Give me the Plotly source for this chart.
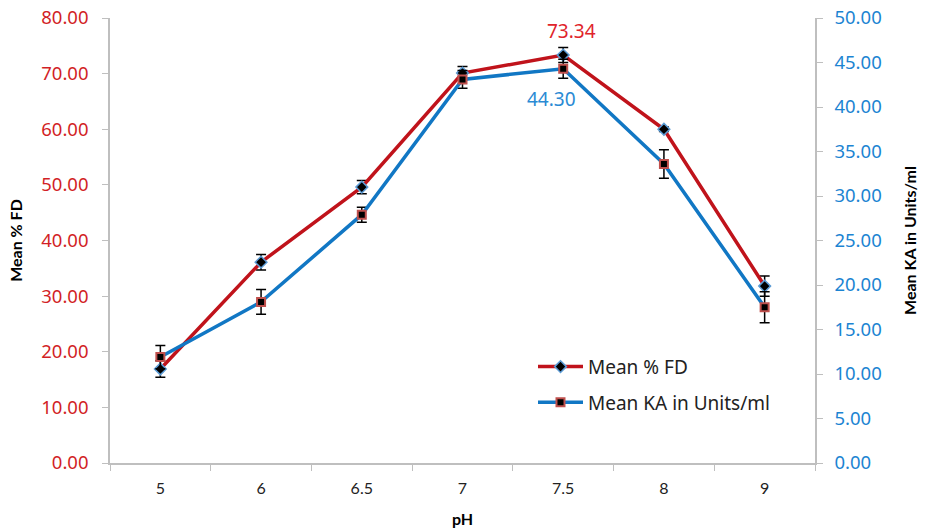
import plotly.graph_objects as go

ph = ["5", "6", "6.5", "7", "7.5", "8", "9"]
fd = [16.9, 36.1, 49.6, 70.1, 73.34, 60.0, 31.8]
fd_err = [1.5, 1.4, 1.2, 1.2, 1.35, 0.4, 1.8]
ka = [11.9, 18.1, 27.9, 43.1, 44.30, 33.6, 17.5]
ka_err = [1.3, 1.4, 0.85, 1.0, 1.07, 1.6, 1.75]

RED = "#C0131B"
BLUE = "#1177C4"
AX = "#BFBFBF"

fig = go.Figure()
fig.add_trace(go.Scatter(
    x=ph, y=fd, name="Mean % FD", mode="lines+markers", legendgroup="a",
    line=dict(color=RED, width=3.5),
    marker=dict(symbol="diamond", size=9, color="black", line=dict(color="#5B9BD5", width=1.5)),
    error_y=dict(type="data", array=fd_err, color="black", thickness=1.5, width=5),
    yaxis="y"))
fig.add_trace(go.Scatter(
    x=ph, y=ka, name="Mean KA in Units/ml", mode="lines+markers", legendgroup="b",
    line=dict(color=BLUE, width=3.5),
    marker=dict(symbol="square", size=8, color="black", line=dict(color="#C0504D", width=2)),
    error_y=dict(type="data", array=ka_err, color="black", thickness=1.5, width=5),
    yaxis="y2"))

idx = ph.index("7.5")
fig.add_annotation(x=idx, y=fd[idx], yref="y", text=f"{fd[idx]:.2f}", showarrow=False,
                   xshift=8, yshift=24, font=dict(color="#E0242B", size=19, family="Noto Sans"))
fig.add_annotation(x=idx, y=ka[idx], yref="y2", text=f"{ka[idx]:.2f}", showarrow=False,
                   xshift=-12, yshift=-30, font=dict(color="#2A8AD4", size=19, family="Noto Sans"))

fig.update_layout(
    width=929, height=528,
    margin=dict(l=110, r=114, t=18, b=65),
    paper_bgcolor="white", plot_bgcolor="white",
    showlegend=True,
    legend=dict(x=0.6, y=0.259, xanchor="left", yanchor="top", traceorder="grouped",
                font=dict(size=19, family="Noto Sans", color="#222"),
                bgcolor="rgba(0,0,0,0)", itemwidth=45, tracegroupgap=8),
    xaxis=dict(type="category", range=[-0.5, 6.5], showline=True, linecolor=AX, linewidth=1.5,
               ticks="outside", tickson="boundaries", ticklen=6, tickcolor=AX, automargin=False,
               showgrid=False, zeroline=False, ticklabelstandoff=10,
               tickfont=dict(size=16, family="Liberation Sans Narrow, Lato", color="#222"),
               title=dict(text="<b>pH</b>", font=dict(size=16, family="Lato", color="black"), standoff=19)),
    yaxis=dict(range=[0, 80], dtick=10, tickformat=".2f", showline=True, linecolor=AX, linewidth=1.5,
               ticks="outside", ticklen=6, tickcolor=AX, showgrid=False, zeroline=False, automargin=False,
               ticklabelstandoff=10,
               tickfont=dict(size=18.5, family="Noto Sans", color="#D21F26"),
               title=dict(text="<b>Mean % FD</b>", font=dict(size=16, family="Lato", color="black"), standoff=15)),
    yaxis2=dict(range=[0, 50], dtick=5, tickformat=".2f", overlaying="y", side="right",
                showline=True, linecolor=AX, linewidth=1.5, automargin=False,
                ticks="outside", ticklen=6, tickcolor=AX, showgrid=False, zeroline=False,
                ticklabelstandoff=8,
                tickfont=dict(size=18.5, family="Noto Sans", color="#1C84D2"),
                title=dict(text="<b>Mean KA in Units/ml</b>", font=dict(size=16, family="Lato", color="black"), standoff=24)),
)

fig.write_html("out.html")
